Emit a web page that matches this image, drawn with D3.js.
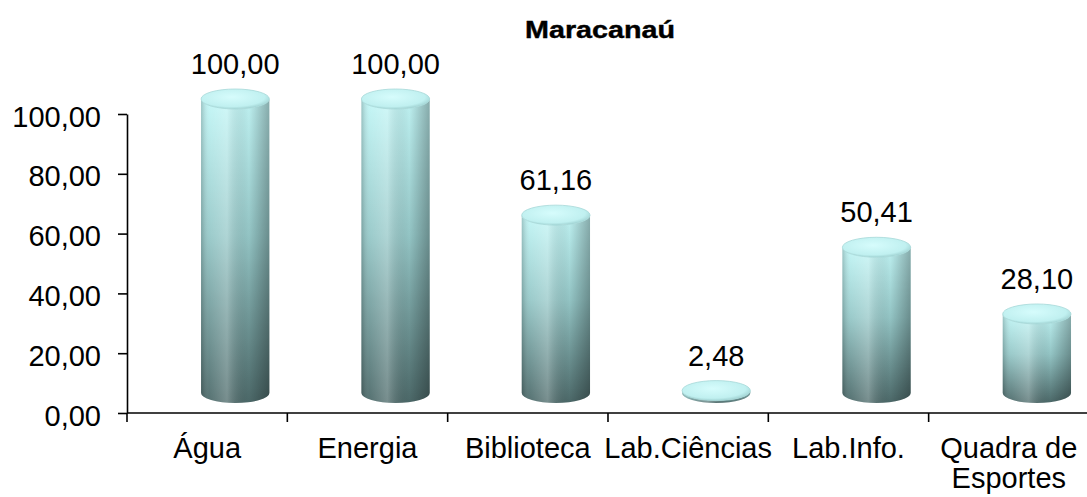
<!DOCTYPE html>
<html>
<head>
<meta charset="utf-8">
<script src="https://cdn.jsdelivr.net/npm/d3@7"></script>
<style>
    body { margin: 0; background: #fff; }
    text { font-family: "Liberation Sans", Arial, sans-serif; fill: #000; }
</style>
</head>
<body>
<div id="chart"></div>
<script>
// chart data
var title = "Maracanaú";
var categories = ["Água", "Energia", "Biblioteca", "Lab.Ciências", "Lab.Info.", "Quadra de Esportes"];
var values = [100.00, 100.00, 61.16, 2.48, 50.41, 28.10];
var yTicks = [0, 20, 40, 60, 80, 100];

var width = 1087, height = 497;
var margin = {top: 114, right: 0, bottom: 84, left: 127};
var fontSize = "29px";

var locale = d3.formatLocale({decimal: ",", thousands: ".", grouping: [3], currency: ["R$", ""]});
var fmt = locale.format(".2f");

var svg = d3.select("#chart")
        .append("svg")
        .attr("width", width)
        .attr("height", height);

var defs = svg.append("defs");

// vertical shading of the cylinder body
var gv = defs.append("linearGradient")
        .attr("id", "bodyV")
        .attr("x1", 0).attr("y1", 0).attr("x2", 0).attr("y2", 1);
gv.append("stop").attr("offset", "0%").attr("stop-color", "#c2f6f6");
gv.append("stop").attr("offset", "45%").attr("stop-color", "#96c8c8");
gv.append("stop").attr("offset", "100%").attr("stop-color", "#4d6a6a");

// horizontal light / shadow over the body
var gh = defs.append("linearGradient")
        .attr("id", "bodyH")
        .attr("x1", 0).attr("y1", 0).attr("x2", 1).attr("y2", 0);
gh.append("stop").attr("offset", "0%").attr("stop-color", "#000").attr("stop-opacity", 0.2);
gh.append("stop").attr("offset", "12%").attr("stop-color", "#fff").attr("stop-opacity", 0.05);
gh.append("stop").attr("offset", "38%").attr("stop-color", "#fff").attr("stop-opacity", 0.24);
gh.append("stop").attr("offset", "70%").attr("stop-color", "#000").attr("stop-opacity", 0.02);
gh.append("stop").attr("offset", "100%").attr("stop-color", "#000").attr("stop-opacity", 0.3);

// top cap
var gt = defs.append("radialGradient")
        .attr("id", "cap")
        .attr("cx", "45%").attr("cy", "40%").attr("r", "60%");
gt.append("stop").attr("offset", "0%").attr("stop-color", "#d6fcfc");
gt.append("stop").attr("offset", "80%").attr("stop-color", "#c0f0f0");
gt.append("stop").attr("offset", "100%").attr("stop-color", "#a3d5d5");

// scales
var x = d3.scaleBand()
        .domain(categories)
        .range([margin.left, margin.left + 6 * 160.33])
        .padding(0);

var y = d3.scaleLinear()
        .domain([0, 100])
        .range([height - margin.bottom, margin.top]);

// axes
var yAxis = svg.append("g")
        .attr("transform", "translate(" + margin.left + ",0)")
        .call(d3.axisLeft(y)
                .tickValues(yTicks)
                .tickSize(9)
                .tickSizeOuter(0)
                .tickPadding(17)
                .tickFormat(fmt));
yAxis.select(".domain").attr("stroke", "#000").attr("stroke-width", 1.6);
yAxis.selectAll(".tick line").attr("stroke", "#000").attr("stroke-width", 1.6);
yAxis.selectAll(".tick text")
        .attr("dy", "0.42em")
        .style("font-size", fontSize);

var xAxisY = y(0);
svg.append("line")
        .attr("x1", margin.left)
        .attr("x2", width)
        .attr("y1", xAxisY)
        .attr("y2", xAxisY)
        .attr("stroke", "#000")
        .attr("stroke-width", 1.6);

svg.selectAll(".xtick")
        .data(categories)
        .enter()
        .append("line")
        .attr("class", "xtick")
        .attr("x1", function (d) { return x(d); })
        .attr("x2", function (d) { return x(d); })
        .attr("y1", xAxisY)
        .attr("y2", xAxisY + 9)
        .attr("stroke", "#000")
        .attr("stroke-width", 1.6);

// category labels, wrapped when wider than a band
var xl = svg.selectAll(".xlabel")
        .data(categories)
        .enter()
        .append("text")
        .attr("class", "xlabel")
        .attr("text-anchor", "middle")
        .attr("y", xAxisY + 45)
        .style("font-size", fontSize);

xl.each(function (d) {
    var el = d3.select(this);
    var cx = x(d) + x.bandwidth() / 2;
    var words = d.split(" "), line = [];
    var tspan = el.append("tspan").attr("x", cx).attr("dy", 0);
    words.forEach(function (w) {
        line.push(w);
        tspan.text(line.join(" "));
        if (tspan.node().getComputedTextLength() > 175 && line.length > 1) {
            line.pop();
            tspan.text(line.join(" "));
            line = [w];
            tspan = el.append("tspan").attr("x", cx).attr("dy", "1.05em").text(w);
        }
    });
});

// cylinders
var rx = x.bandwidth() * 0.213, ry = 10;
var barCx = function (d) { return x(d) + x.bandwidth() * 0.675; };
var yBottom = y(0) - 20;
var yTop = function (v) { return Math.min(y(v) - 15, yBottom); };

var bars = svg.selectAll(".bar")
        .data(categories.map(function (c, i) { return {c: c, v: values[i]}; }))
        .enter()
        .append("g")
        .attr("class", "bar");

var bodyPath = function (d) {
    var cx = barCx(d.c), t = yTop(d.v);
    return "M" + (cx - rx) + "," + t +
            "L" + (cx - rx) + "," + yBottom +
            "A" + rx + "," + ry + " 0 0 0 " + (cx + rx) + "," + yBottom +
            "L" + (cx + rx) + "," + t +
            "A" + rx + "," + ry + " 0 0 1 " + (cx - rx) + "," + t + "Z";
};

bars.append("path")
        .attr("d", bodyPath)
        .attr("fill", "url(#bodyV)");
bars.append("path")
        .attr("d", bodyPath)
        .attr("fill", "url(#bodyH)");

bars.append("ellipse")
        .attr("cx", function (d) { return barCx(d.c); })
        .attr("cy", function (d) { return yTop(d.v); })
        .attr("rx", rx)
        .attr("ry", ry)
        .attr("fill", "url(#cap)")
        .attr("stroke", "#a6d8d8")
        .attr("stroke-width", 0.8);

// value labels
bars.append("text")
        .attr("x", function (d) { return barCx(d.c); })
        .attr("y", function (d) { return yTop(d.v) - ry - 15; })
        .attr("text-anchor", "middle")
        .style("font-size", fontSize)
        .text(function (d) { return fmt(d.v); });

// title
svg.append("text")
        .attr("x", 600)
        .attr("y", 38)
        .attr("text-anchor", "middle")
        .attr("textLength", 150)
        .attr("lengthAdjust", "spacingAndGlyphs")
        .style("font-size", "23px")
        .style("font-weight", "bold")
        .style("stroke", "#000")
        .style("stroke-width", 0.4)
        .text(title);
</script>
</body>
</html>
